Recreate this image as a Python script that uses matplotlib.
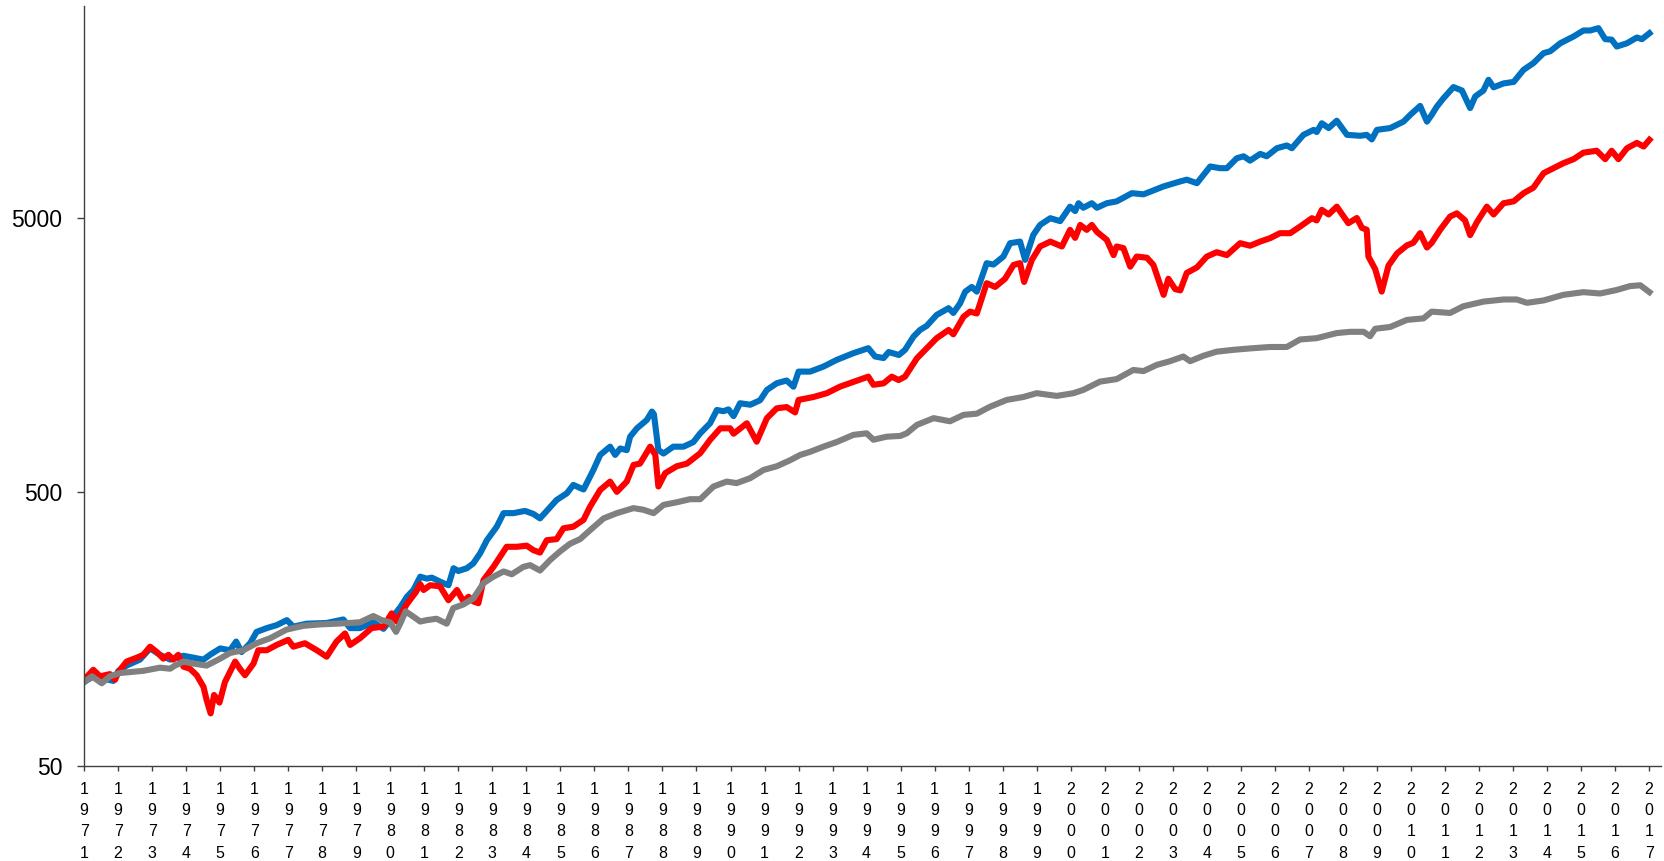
import matplotlib
matplotlib.use("Agg")
import matplotlib.pyplot as plt
from matplotlib.ticker import NullLocator

plt.rcParams['font.family'] = ['Liberation Sans', 'DejaVu Sans']

# blue series
blue_years = [1971.00, 1971.27, 1971.57, 1971.86, 1972.01, 1972.25, 1972.64, 1972.94, 1973.23, 1973.53,
              1973.92, 1974.21, 1974.51, 1974.70, 1975.00, 1975.29, 1975.47, 1975.63, 1975.88, 1976.07,
              1976.37, 1976.66, 1976.96, 1977.15, 1977.54, 1978.13, 1978.62, 1978.82, 1979.11, 1979.50,
              1979.80, 1980.09, 1980.30, 1980.49, 1980.68, 1980.88, 1981.07, 1981.22, 1981.56, 1981.71,
              1981.86, 1982.00, 1982.25, 1982.44, 1982.64, 1982.84, 1983.13, 1983.33, 1983.62, 1983.96,
              1984.21, 1984.40, 1984.60, 1984.89, 1985.19, 1985.38, 1985.68, 1985.97, 1986.17, 1986.46,
              1986.61, 1986.76, 1986.95, 1987.05, 1987.25, 1987.54, 1987.69, 1987.75, 1987.88, 1988.03,
              1988.32, 1988.62, 1988.91, 1989.11, 1989.40, 1989.60, 1989.79, 1989.94, 1990.09, 1990.28,
              1990.58, 1990.87, 1991.07, 1991.36, 1991.65, 1991.85, 1992.00, 1992.34, 1992.73, 1993.12,
              1993.61, 1994.05, 1994.25, 1994.50, 1994.65, 1994.95, 1995.13, 1995.38, 1995.57, 1995.77,
              1996.06, 1996.41, 1996.55, 1996.75, 1996.90, 1997.09, 1997.24, 1997.53, 1997.73, 1998.02,
              1998.22, 1998.51, 1998.66, 1998.90, 1999.10, 1999.40, 1999.69, 1999.98, 2000.13, 2000.23,
              2000.37, 2000.62, 2000.77, 2001.06, 2001.35, 2001.80, 2002.14, 2002.73, 2003.22, 2003.41,
              2003.71, 2004.10, 2004.39, 2004.59, 2004.88, 2005.08, 2005.27, 2005.57, 2005.76, 2006.06,
              2006.35, 2006.50, 2006.84, 2007.14, 2007.23, 2007.38, 2007.58, 2007.82, 2008.12, 2008.51,
              2008.70, 2008.85, 2009.00, 2009.39, 2009.78, 2009.98, 2010.27, 2010.47, 2010.61, 2010.76,
              2010.96, 2011.25, 2011.50, 2011.74, 2011.89, 2012.13, 2012.28, 2012.43, 2012.72, 2013.02,
              2013.31, 2013.60, 2013.90, 2014.09, 2014.39, 2014.78, 2015.07, 2015.27, 2015.51, 2015.71,
              2015.90, 2016.05, 2016.35, 2016.64, 2016.79, 2017.01]
blue_vals = [101, 106, 104, 102, 111, 116, 122, 134, 127, 122,
             126, 124, 122, 127, 134, 132, 142, 130, 140, 154,
             159, 163, 170, 161, 165, 166, 171, 159, 159, 167,
             158, 176, 190, 207, 219, 245, 241, 243, 232, 228,
             263, 257, 263, 274, 298, 333, 373, 418, 418, 426,
             415, 400, 426, 467, 494, 530, 510, 601, 682, 731,
             682, 720, 710, 795, 853, 915, 982, 960, 711, 690,
             731, 731, 760, 818, 890, 995, 985, 1000, 945, 1053,
             1040, 1080, 1178, 1246, 1275, 1210, 1374, 1374, 1433, 1516,
             1604, 1673, 1560, 1540, 1620, 1580, 1650, 1845, 1950, 2020,
             2213, 2342, 2250, 2442, 2692, 2800, 2692, 3419, 3380, 3615,
             4046, 4100, 3516, 4337, 4716, 4991, 4870, 5500, 5300, 5660,
             5450, 5660, 5450, 5660, 5750, 6160, 6100, 6520, 6800, 6900,
             6700, 7710, 7600, 7600, 8260, 8400, 8100, 8570, 8400, 8990,
             9200, 8990, 10060, 10490, 10300, 11090, 10650, 11330, 10060, 9980,
             10060, 9680, 10490, 10650, 11240, 11900, 12830, 11240, 11900, 12750,
             13700, 15030, 14600, 12600, 13900, 14600, 15980, 15000, 15500, 15700,
             17380, 18390, 20000, 20300, 21730, 23000, 24190, 24190, 24670, 22490,
             22400, 21140, 21730, 22800, 22490, 23640]

# red series
red_years = [1971.00, 1971.27, 1971.47, 1971.76, 1971.91, 1972.01, 1972.25, 1972.55, 1972.74, 1972.94,
             1973.14, 1973.33, 1973.48, 1973.62, 1973.77, 1973.92, 1974.11, 1974.31, 1974.51, 1974.60,
             1974.72, 1974.82, 1974.98, 1975.14, 1975.44, 1975.58, 1975.73, 1975.98, 1976.12, 1976.37,
             1976.66, 1977.00, 1977.15, 1977.49, 1977.84, 1978.13, 1978.42, 1978.67, 1978.82, 1979.11,
             1979.45, 1979.80, 1980.04, 1980.19, 1980.48, 1980.75, 1980.88, 1980.98, 1981.17, 1981.46,
             1981.71, 1981.96, 1982.15, 1982.30, 1982.44, 1982.59, 1982.74, 1983.03, 1983.23, 1983.42,
             1983.72, 1984.01, 1984.21, 1984.40, 1984.60, 1984.89, 1985.09, 1985.38, 1985.68, 1985.87,
             1986.17, 1986.46, 1986.66, 1986.95, 1987.15, 1987.34, 1987.64, 1987.79, 1987.88, 1988.08,
             1988.42, 1988.72, 1989.11, 1989.40, 1989.70, 1989.99, 1990.09, 1990.48, 1990.77, 1991.07,
             1991.36, 1991.65, 1991.90, 1992.00, 1992.44, 1992.83, 1993.22, 1993.61, 1994.05, 1994.20,
             1994.50, 1994.74, 1994.94, 1995.13, 1995.48, 1995.77, 1996.06, 1996.41, 1996.55, 1996.85,
             1997.04, 1997.24, 1997.53, 1997.78, 1998.07, 1998.32, 1998.51, 1998.63, 1998.86, 1999.10,
             1999.40, 1999.74, 1999.98, 2000.13, 2000.28, 2000.47, 2000.62, 2000.77, 2001.06, 2001.26,
             2001.35, 2001.55, 2001.75, 2001.94, 2002.24, 2002.43, 2002.58, 2002.73, 2002.87, 2003.07,
             2003.22, 2003.41, 2003.71, 2004.00, 2004.29, 2004.59, 2004.98, 2005.27, 2005.57, 2005.86,
             2006.15, 2006.45, 2006.74, 2007.09, 2007.23, 2007.38, 2007.58, 2007.82, 2008.16, 2008.41,
             2008.56, 2008.70, 2008.75, 2008.95, 2009.14, 2009.34, 2009.59, 2009.88, 2010.07, 2010.27,
             2010.47, 2010.61, 2010.86, 2011.15, 2011.35, 2011.59, 2011.74, 2011.94, 2012.23, 2012.43,
             2012.72, 2013.02, 2013.31, 2013.60, 2013.90, 2014.19, 2014.48, 2014.78, 2015.07, 2015.46,
             2015.71, 2015.90, 2016.10, 2016.35, 2016.64, 2016.84, 2017.01]
red_vals = [103, 112, 106, 108, 103, 110, 120, 124, 127, 136,
            130, 123, 127, 122, 127, 115, 113, 107, 97, 87,
            77.6, 90.6, 85, 101, 120, 113, 107, 118, 132, 132,
            138, 144, 136, 140, 132, 125, 142, 152, 138, 146,
            159, 161, 180, 168, 194, 215, 230, 219, 228, 226,
            201, 219, 199, 207, 199, 196, 238, 266, 290, 315,
            315, 318, 306, 300, 333, 336, 368, 373, 395, 441,
            508, 545, 500, 545, 627, 634, 731, 682, 523, 585,
            620, 634, 692, 774, 853, 853, 815, 890, 762, 929,
            1009, 1020, 975, 1083, 1110, 1146, 1211, 1260, 1317, 1230,
            1245, 1317, 1280, 1317, 1537, 1673, 1820, 1950, 1880, 2180,
            2275, 2240, 2890, 2800, 3000, 3370, 3420, 2920, 3520, 3935,
            4100, 3935, 4525, 4230, 4716, 4525, 4716, 4450, 4160, 3660,
            3935, 3880, 3320, 3615, 3580, 3370, 2970, 2620, 3000, 2750,
            2720, 3150, 3300, 3615, 3750, 3660, 4046, 3960, 4100, 4220,
            4400, 4400, 4650, 4992, 4900, 5355, 5150, 5500, 4785, 5000,
            4600, 4530, 3615, 3250, 2692, 3350, 3710, 3970, 4060, 4400,
            3900, 4060, 4530, 5060, 5200, 4900, 4330, 4830, 5500, 5150,
            5660, 5750, 6160, 6450, 7290, 7600, 7925, 8200, 8660, 8800,
            8200, 8800, 8200, 8990, 9400, 9120, 9650]

# gray series
gray_years = [1971.00, 1971.23, 1971.52, 1971.76, 1972.06, 1972.74, 1973.23, 1973.53, 1973.67, 1973.92,
              1974.21, 1974.60, 1975.00, 1975.29, 1975.68, 1976.07, 1976.47, 1976.95, 1977.44, 1977.93,
              1978.42, 1978.82, 1979.11, 1979.50, 1979.75, 1979.99, 1980.17, 1980.29, 1980.45, 1980.68,
              1980.88, 1981.07, 1981.36, 1981.66, 1981.85, 1982.15, 1982.44, 1982.74, 1983.03, 1983.33,
              1983.57, 1983.91, 1984.11, 1984.40, 1984.70, 1984.99, 1985.28, 1985.58, 1985.87, 1986.27,
              1986.66, 1987.15, 1987.44, 1987.74, 1988.03, 1988.42, 1988.81, 1989.11, 1989.50, 1989.89,
              1990.18, 1990.58, 1990.97, 1991.36, 1991.75, 1992.05, 1992.34, 1992.73, 1993.12, 1993.61,
              1994.00, 1994.20, 1994.59, 1994.99, 1995.18, 1995.48, 1995.97, 1996.45, 1996.85, 1997.24,
              1997.63, 1998.12, 1998.61, 1999.00, 1999.59, 2000.08, 2000.37, 2000.86, 2001.35, 2001.84,
              2002.14, 2002.53, 2002.92, 2003.31, 2003.51, 2003.90, 2004.29, 2004.78, 2005.27, 2005.86,
              2006.35, 2006.74, 2007.23, 2007.82, 2008.21, 2008.61, 2008.80, 2008.95, 2009.39, 2009.88,
              2010.37, 2010.61, 2011.15, 2011.54, 2012.13, 2012.72, 2013.11, 2013.41, 2013.90, 2014.48,
              2015.07, 2015.56, 2016.05, 2016.44, 2016.74, 2017.01]
gray_vals = [101, 106, 100, 106, 109, 111, 114, 113, 116, 120,
             118, 116, 123, 129, 132, 140, 146, 157, 162, 164,
             165, 166, 167, 176, 170, 167, 154, 165, 183, 175,
             168, 170, 172, 165, 188, 194, 204, 232, 245, 256,
             250, 266, 270, 258, 282, 303, 323, 336, 362, 400,
             418, 436, 430, 418, 448, 458, 470, 470, 523, 545,
             538, 561, 601, 620, 652, 682, 700, 731, 760, 807,
             818, 775, 795, 800, 818, 878, 929, 905, 955, 965,
             1023, 1083, 1110, 1146, 1120, 1146, 1178, 1263, 1290, 1393,
             1380, 1454, 1500, 1560, 1500, 1570, 1625, 1650, 1670, 1690,
             1690, 1800, 1820, 1900, 1920, 1920, 1850, 1970, 2000, 2122,
             2150, 2275, 2250, 2380, 2475, 2520, 2520, 2450, 2500, 2620,
             2680, 2650, 2730, 2820, 2840, 2680]

years = list(range(1971, 2018))
year_labels = ["\n".join(str(y)) for y in years]

fig = plt.figure(figsize=(16.65, 8.61), dpi=100)
ax = fig.add_axes([0.0505, 0.1107, 0.9471, 0.8827])

ax.plot(blue_years, blue_vals, color="#0070C0", lw=4.4, solid_joinstyle="round")
ax.plot(red_years, red_vals, color="#FF0000", lw=4.4, solid_joinstyle="round")
ax.plot(gray_years, gray_vals, color="#808080", lw=4.4, solid_joinstyle="round")

ax.set_yscale("log")
ax.set_ylim(50, 29800)
ax.set_yticks([50, 500, 5000])
ax.set_yticklabels(["50", "500", "5000"], fontsize=16.5)
ax.yaxis.set_minor_locator(NullLocator())

ax.set_xlim(1971, 2017.35)
ax.set_xticks(years)
ax.set_xticklabels(year_labels, fontsize=11.5, linespacing=1.52)

for s in ["top", "right"]:
    ax.spines[s].set_visible(False)
for s in ["left", "bottom"]:
    ax.spines[s].set_color("#404040")
    ax.spines[s].set_linewidth(1.0)

ax.tick_params(axis="y", length=5, width=1, color="#404040", pad=10.8)
ax.tick_params(axis="x", length=3.6, width=1, color="#404040", pad=8)

fig.savefig("out.png", dpi=100)
